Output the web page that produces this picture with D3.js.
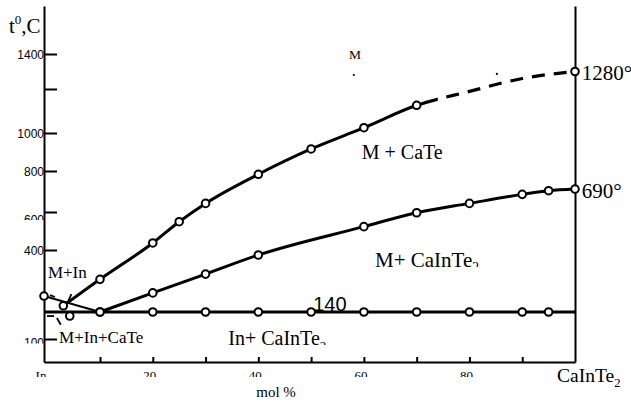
<!DOCTYPE html>
<html>
<head>
<meta charset="utf-8">
<script src="https://cdn.jsdelivr.net/npm/d3@7"></script>
<style>
  body { margin: 0; background: #fff; }
  svg { display: block; }
</style>
</head>
<body>
<div id="drawing"></div>
<script>
const width = 631;
const height = 403;

// composition axis, mol % CaInTe2 (the scan is stretched near In, so the scale is piecewise)
const xDomain = [0, 10, 100];
// temperature axis, also piecewise (the original drawing is not to scale)
const yDomain = [65, 100, 140, 400, 600, 800, 1000, 1200, 1400, 1650];

// M + CaTe liquidus, solid part with circles
const cateX = [3.45, 10, 20, 25, 30, 40, 50, 60, 70];
const cateT = [166, 277, 437, 549, 642, 784, 916, 1024, 1126];
// its dashed continuation to CaInTe2
const cateDashX = [80, 90, 100];
const cateDashT = [1189, 1260, 1300];
const cateSolidEnd = 74;

// CaInTe2 liquidus
const cainX = [10, 20, 30, 40, 60, 70, 80, 90, 95, 100];
const cainT = [140, 220, 299, 379, 523, 596, 642, 686, 704, 712];

// 140 degree horizontal
const eutX = [10, 20, 30, 40, 50, 60, 70, 80, 90, 95];
const eutT = 140;

// In side line and the lone point under it
const inX = [0, 10];
const inT = [207, 140];
const loneX = [4.6];
const loneT = [134];

// small hand marks near the ternary point, [x1, t1, x2, t2]
const marks = [
  [4.9, 215, 4.2, 179],
  [1.07, 211, 1.96, 203],
  [0.54, 134, 1.8, 134],
  [2.3, 131, 3.0, 121]
];
// stray dots
const dotX = [58.1, 85.2];
const dotT = [1280, 1286];

const yTicks = [100, 400, 600, 800, 1000, 1200, 1400];
const yTickLabels = ["100", "400", "600", "800", "1000", "", "1400"];
const xTicks = [10, 20, 30, 40, 50, 60, 70, 80, 90];
const xLabelVals = [0, 20, 40, 60, 80];
const xLabels = ["In", "20", "40", "60", "80"];

const serif = "'Liberation Serif', 'Times New Roman', serif";
const sans = "'Liberation Sans', Arial, sans-serif";

// text notes: anchor in data units, then style
const notes = [
  {text: "M + CaTe", sub: "", at: [59.6, 863], size: 20, font: serif},
  {text: "M+ CaInTe", sub: "2", at: [62.1, 329], size: 21, font: serif, clip: 0},
  {text: "In+ CaInTe", sub: "2", at: [34.3, 91], size: 20, font: serif, clip: 0},
  {text: "M+In", sub: "", at: [0.7, 283], size: 17, font: serif},
  {text: "M+In+CaTe", sub: "", at: [2.7, 94], size: 17, font: serif},
  {text: "140", sub: "", at: [50.4, 143], size: 20, font: sans},
  {text: "1280°", sub: "", at: [101.3, 1251], size: 21, font: serif},
  {text: "690°", sub: "", at: [101.3, 668], size: 21, font: serif},
  {text: "M", sub: "", at: [57.2, 1371], size: 13.5, font: serif},
  {text: "CaInTe", sub: "2", at: [96.6, 34.6], size: 19.5, font: serif},
  {text: "mol %", sub: "", at: [39.6, 11.7], size: 15, font: serif}
];

const svg = d3.select("#drawing").append("svg")
  .attr("width", width)
  .attr("height", height)
  .style("background", "#fff");
const defs = svg.append("defs");

const xScale = d3.scaleLinear().domain(xDomain).range([44, 100, 575]);
const yScale = d3.scaleLinear().domain(yDomain)
  .range([362, 339, 312, 250, 212, 171, 133, 89, 54, 6]);

// axes
const yAxisG = svg.append("g")
  .attr("transform", `translate(${xScale(0)},0)`)
  .call(d3.axisLeft(yScale).tickValues(yTicks).tickSizeInner(-13).tickSizeOuter(0).tickFormat(""));
const rAxisG = svg.append("g")
  .attr("transform", `translate(${xScale(100)},0)`)
  .call(d3.axisRight(yScale).tickValues([]).tickSizeOuter(0));
const xAxisG = svg.append("g")
  .attr("transform", `translate(0,${yScale(65)})`)
  .call(d3.axisBottom(xScale).tickValues(xTicks).tickSizeInner(-5).tickSizeOuter(0).tickFormat(""));
svg.selectAll(".domain, .tick line").attr("stroke", "#000").attr("stroke-width", 2);

let clipCount = 0;
function clipBelow(g, yMax) {
  const id = "cut" + (clipCount++);
  defs.append("clipPath").attr("id", id)
    .append("rect").attr("x", 0).attr("y", 0).attr("width", width).attr("height", yMax);
  g.attr("clip-path", `url(#${id})`);
}

// y tick labels
const yLabelShift = {"600": 12, "100": 8};
const yLabelCut = {"600": -4, "100": -3.5};
yTickLabels.forEach((lab, i) => {
  if (!lab) return;
  const g = svg.append("g");
  const by = yScale(yTicks[i]) + (yLabelShift[lab] || 4.5);
  if (yLabelCut[lab] !== undefined) clipBelow(g, by + yLabelCut[lab]);
  g.append("text")
    .attr("x", xScale(0))
    .attr("y", by)
    .attr("text-anchor", "end")
    .attr("font-family", sans)
    .attr("font-size", 12)
    .text(lab);
});

// x tick labels, cut off below like the scan
const xg = svg.append("g");
clipBelow(xg, yScale(65) + 15);
xg.selectAll("text")
  .data(xLabels)
  .enter()
  .append("text")
    .attr("x", (d, i) => xScale(xLabelVals[i]) - 3)
    .attr("y", yScale(65) + 18)
    .attr("text-anchor", "middle")
    .attr("font-family", serif)
    .attr("font-size", 13)
    .text(d => d);

const line = d3.line()
  .x(d => xScale(d[0]))
  .y(d => yScale(d[1]))
  .curve(d3.curveMonotoneX);
const straight = d3.line()
  .x(d => xScale(d[0]))
  .y(d => yScale(d[1]));

const curves = svg.append("g").attr("fill", "none").attr("stroke", "#000");

// In line (thinner)
curves.append("path")
  .attr("d", straight(d3.zip(inX, inT)))
  .attr("stroke-width", 2);

// 140 line across the whole width
curves.append("path")
  .attr("d", straight([[0, eutT], [100, eutT]]))
  .attr("stroke-width", 3);

// CaInTe2 liquidus
curves.append("path")
  .attr("d", line(d3.zip(cainX, cainT)))
  .attr("stroke-width", 3);

// CaTe liquidus: solid part then dashed
const cateAll = d3.zip(cateX, cateT).concat(d3.zip(cateDashX, cateDashT));
const solidG = curves.append("g");
const dashG = curves.append("g");
const cutX = xScale(cateSolidEnd);
const idA = "cateSolid", idB = "cateDash";
defs.append("clipPath").attr("id", idA).append("rect")
  .attr("x", 0).attr("y", 0).attr("width", cutX).attr("height", height);
defs.append("clipPath").attr("id", idB).append("rect")
  .attr("x", cutX).attr("y", 0).attr("width", width - cutX).attr("height", height);
solidG.attr("clip-path", `url(#${idA})`)
  .append("path").attr("d", line(cateAll)).attr("stroke-width", 3);
const dashed = dashG.attr("clip-path", `url(#${idB})`)
  .append("path").attr("d", line(cateAll)).attr("stroke-width", 3.2);
// start the dash pattern with a gap right where the solid part ends
const node = dashed.node();
let lo = 0, hi = node.getTotalLength();
while (hi - lo > 0.3) {
  const mid = (lo + hi) / 2;
  if (node.getPointAtLength(mid).x < cutX) lo = mid; else hi = mid;
}
const dash = 13, gap = 9;
const off = (((dash - lo) % (dash + gap)) + (dash + gap)) % (dash + gap);
dashed.attr("stroke-dasharray", `${dash} ${gap}`).attr("stroke-dashoffset", off);

// hand marks
curves.selectAll(".mark")
  .data(marks)
  .enter()
  .append("line")
    .attr("class", "mark")
    .attr("x1", d => xScale(d[0]))
    .attr("y1", d => yScale(d[1]))
    .attr("x2", d => xScale(d[2]))
    .attr("y2", d => yScale(d[3]))
    .attr("stroke-width", 1.8);

// circles
const pts = []
  .concat(d3.zip(cateX, cateT))
  .concat(d3.zip(cainX, cainT))
  .concat(eutX.map(x => [x, eutT]))
  .concat([[inX[0], inT[0]]])
  .concat(d3.zip(loneX, loneT))
  .concat([[cateDashX[cateDashX.length - 1], cateDashT[cateDashT.length - 1]]]);

svg.append("g").selectAll("circle")
  .data(pts)
  .enter()
  .append("circle")
    .attr("cx", d => xScale(d[0]))
    .attr("cy", d => yScale(d[1]))
    .attr("r", 3.8)
    .attr("fill", "#fff")
    .attr("stroke", "#000")
    .attr("stroke-width", 2);

svg.append("g").selectAll("circle")
  .data(d3.zip(dotX, dotT))
  .enter()
  .append("circle")
    .attr("cx", d => xScale(d[0]))
    .attr("cy", d => yScale(d[1]))
    .attr("r", 1.1)
    .attr("fill", "#000");

// notes
notes.forEach(n => {
  const g = svg.append("g");
  const px = xScale(n.at[0]);
  const py = yScale(n.at[1]);
  if (n.clip !== undefined) clipBelow(g, py + n.clip);
  const t = g.append("text")
    .attr("x", px)
    .attr("y", py)
    .attr("font-family", n.font)
    .attr("font-size", n.size)
    .attr("fill", "#000")
    .text(n.text);
  if (n.sub) {
    t.append("tspan")
      .attr("font-size", n.size * 0.65)
      .attr("dy", n.size * 0.25)
      .text(n.sub);
  }
});

// axis title t0,C
const title = svg.append("text")
  .attr("x", 9)
  .attr("y", 33)
  .attr("font-family", serif)
  .attr("font-size", 21);
title.append("tspan").text("t");
title.append("tspan").attr("font-size", 13).attr("dy", -9).text("0");
title.append("tspan").attr("dy", 9).text(",C");
</script>
</body>
</html>
